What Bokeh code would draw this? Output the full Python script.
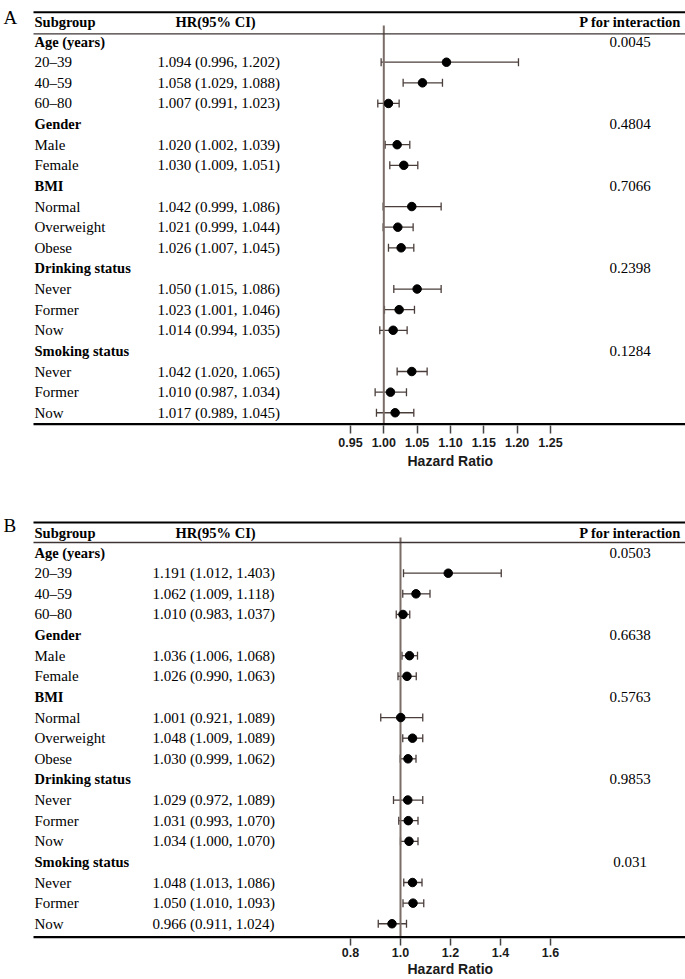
from bokeh.plotting import figure
from bokeh.models import (Range1d, FixedTicker, PrintfTickFormatter, Whisker, TeeHead,
                          ColumnDataSource, Title)
from bokeh.layouts import column
from bokeh.core.properties import value
from bokeh.embed import file_html
from bokeh.resources import INLINE

# ---------------- data ----------------
group_names = ["Age (years)", "Gender", "BMI", "Drinking status", "Smoking status"]
group_levels = [["20\u201339", "40\u201359", "60\u201380"],
                ["Male", "Female"],
                ["Normal", "Overweight", "Obese"],
                ["Never", "Former", "Now"],
                ["Never", "Former", "Now"]]

a_hr = [1.094, 1.058, 1.007, 1.020, 1.030, 1.042, 1.021, 1.026, 1.050, 1.023, 1.014, 1.042, 1.010, 1.017]
a_lo = [0.996, 1.029, 0.991, 1.002, 1.009, 0.999, 0.999, 1.007, 1.015, 1.001, 0.994, 1.020, 0.987, 0.989]
a_hi = [1.202, 1.088, 1.023, 1.039, 1.051, 1.086, 1.044, 1.045, 1.086, 1.046, 1.035, 1.065, 1.034, 1.045]
a_p = ["0.0045", "0.4804", "0.7066", "0.2398", "0.1284"]
a_ticks = [0.95, 1.00, 1.05, 1.10, 1.15, 1.20, 1.25]

b_hr = [1.191, 1.062, 1.010, 1.036, 1.026, 1.001, 1.048, 1.030, 1.029, 1.031, 1.034, 1.048, 1.050, 0.966]
b_lo = [1.012, 1.009, 0.983, 1.006, 0.990, 0.921, 1.009, 0.999, 0.972, 0.993, 1.000, 1.013, 1.010, 0.911]
b_hi = [1.403, 1.118, 1.037, 1.068, 1.063, 1.089, 1.089, 1.062, 1.089, 1.070, 1.070, 1.086, 1.093, 1.024]
b_p = ["0.0503", "0.6638", "0.5763", "0.9853", "0.031"]
b_ticks = [0.8, 1.0, 1.2, 1.4, 1.6]

# ---------------- layout constants ----------------
W = 685
ROW_H = 20.62
SERIF = "Liberation Serif"
SANS = "Liberation Sans"
VLINE_COLOR = "#7a6d67"
CI_COLOR = "#4a3e3b"
RULE2_COLOR = "#3e3434"
AXIS_TITLE_HALF_W = 43


def panel(letter, hr, lo, hi, pvals, ticks, fmt, cfg):
    H = cfg["height"]
    FB = cfg["frame_bottom"]

    def dx(px):
        return 1 + (px - cfg["x1"]) / cfg["ppu"]

    def px_of(x):
        return cfg["x1"] + (x - 1) * cfg["ppu"]

    def dy(py):
        return (py - cfg["row0"]) / ROW_H

    p = figure(width=W, height=H, x_range=Range1d(dx(0), dx(W)),
               y_range=Range1d(dy(FB), dy(0)),
               output_backend="svg", toolbar_location=None, tools="",
               y_axis_location=None, x_axis_location="below",
               min_border_left=0, min_border_right=0, min_border_top=0,
               min_border_bottom=H - FB)
    p.grid.visible = False
    p.outline_line_color = None
    p.background_fill_color = "white"
    p.border_fill_color = "white"

    # rows
    row_y, row_txt, row_bold = [], [], []
    hdr_y = []
    data_y = []
    r = 0
    for g, levels in zip(group_names, group_levels):
        row_y.append(r); row_txt.append(g); row_bold.append(True); hdr_y.append(r)
        r += 1
        for lv in levels:
            row_y.append(r); row_txt.append(lv); row_bold.append(False); data_y.append(r)
            r += 1

    # reference line at HR = 1
    p.segment(x0=[1.0], y0=[dy(cfg["vline_top"])], x1=[1.0], y1=[dy(FB)],
              line_color=VLINE_COLOR, line_width=2)

    # rules
    p.segment(x0=[dx(33)], y0=[dy(cfg["top"])], x1=[dx(W)], y1=[dy(cfg["top"])],
              line_color="black", line_width=2)
    p.segment(x0=[dx(33)], y0=[dy(cfg["hline"])], x1=[dx(W)], y1=[dy(cfg["hline"])],
              line_color=RULE2_COLOR, line_width=1.3)
    p.segment(x0=[dx(33)], y0=[dy(FB - 1.2)], x1=[dx(W)], y1=[dy(FB - 1.2)],
              line_color="black", line_width=2.4)

    # CIs and points
    src = ColumnDataSource(dict(y=data_y, hr=hr, lo=lo, hi=hi))
    wh = Whisker(source=src, base="y", lower="lo", upper="hi", dimension="width",
                 line_color=CI_COLOR, line_width=1.3,
                 upper_head=TeeHead(size=8, line_color=CI_COLOR, line_width=1.3),
                 lower_head=TeeHead(size=8, line_color=CI_COLOR, line_width=1.3))
    p.add_layout(wh)
    p.scatter(x="hr", y="y", source=src, size=8.5, fill_color="black", line_color="black")

    # texts
    tx = dx(34)
    p.text(x=[tx] * len([b for b in row_bold if b]),
           y=[y for y, b in zip(row_y, row_bold) if b],
           text=[t for t, b in zip(row_txt, row_bold) if b],
           text_font=value(SERIF), text_font_style="bold", text_font_size=value("14.5px"),
           text_align="left", text_baseline="middle", text_color="black")
    p.text(x=[tx] * len([b for b in row_bold if not b]),
           y=[y for y, b in zip(row_y, row_bold) if not b],
           text=[t for t, b in zip(row_txt, row_bold) if not b],
           text_font=value(SERIF), text_font_size=value("15px"),
           text_align="left", text_baseline="middle", text_color="black")
    p.text(x=[dx(cfg["hr_x"])] * len(hr), y=data_y,
           text=[f"{h:.3f} ({l:.3f}, {u:.3f})" for h, l, u in zip(hr, lo, hi)],
           text_font=value(SERIF), text_font_size=value("15px"),
           text_align="left", text_baseline="middle", text_color="black")
    p.text(x=[dx(629.5)] * len(pvals), y=hdr_y, text=pvals,
           text_font=value(SERIF), text_font_size=value("15px"),
           text_align="center", text_baseline="middle", text_color="black")
    # header
    hy = dy(cfg["header"])
    p.text(x=[dx(34)], y=[hy], text=["Subgroup"], text_font=value(SERIF),
           text_font_style="bold", text_font_size=value("14.5px"),
           text_align="left", text_baseline="middle")
    p.text(x=[dx(175)], y=[hy], text=["HR(95% CI)"], text_font=value(SERIF),
           text_font_style="bold", text_font_size=value("14.5px"),
           text_align="left", text_baseline="middle")
    p.text(x=[dx(681)], y=[hy], text=["P for interaction"], text_font=value(SERIF),
           text_font_style="bold", text_font_size=value("14.5px"),
           text_align="right", text_baseline="middle")
    # panel letter
    p.text(x=[dx(3)], y=[dy(cfg["letter_base"])], text=[letter], text_font=value(SERIF),
           text_font_size=value("19px"), text_align="left", text_baseline="alphabetic")

    # axis
    ax = p.xaxis[0]
    ax.ticker = FixedTicker(ticks=ticks)
    ax.formatter = PrintfTickFormatter(format=fmt)
    ax.axis_line_color = None
    ax.major_tick_in = 0
    ax.major_tick_out = cfg["tick_out"]
    ax.major_tick_line_color = "#444444"
    ax.major_tick_line_width = 1.5
    ax.minor_tick_line_color = None
    ax.major_label_text_font = SANS
    ax.major_label_text_font_style = "bold"
    ax.major_label_text_font_size = "12.5px"
    ax.major_label_text_color = "#1a1a1a"
    ax.major_label_standoff = cfg["lab_off"]

    # axis title, centred under the tick range
    centre = px_of((ticks[0] + ticks[-1]) / 2)
    p.add_layout(Title(text="Hazard Ratio", align="left",
                       offset=int(round(centre - AXIS_TITLE_HALF_W)),
                       standoff=cfg["title_off"], vertical_align="top",
                       text_font=SANS, text_font_style="bold", text_font_size="14px",
                       text_color="#1a1a1a"), "below")
    return p


# panel A: figure top at page y 0
cfg_a = dict(height=488, frame_bottom=425, row0=41.1, x1=383.3, ppu=666.7, hr_x=157,
             top=11.7, header=21.7, hline=33.3, vline_top=25, letter_base=16.7,
             tick_out=8, lab_off=4, title_off=6)
# panel B: figure top at page y 488
cfg_b = dict(height=491, frame_bottom=450, row0=64.1, x1=400.0, ppu=250.0, hr_x=152,
             top=34, header=44, hline=54, vline_top=49, letter_base=37,
             tick_out=7, lab_off=2, title_off=2)

pa = panel("A", a_hr, a_lo, a_hi, a_p, a_ticks, "%.2f", cfg_a)
pb = panel("B", b_hr, b_lo, b_hi, b_p, b_ticks, "%.1f", cfg_b)

layout = column(pa, pb, spacing=0)
open("out.html", "w").write(file_html(layout, INLINE))
